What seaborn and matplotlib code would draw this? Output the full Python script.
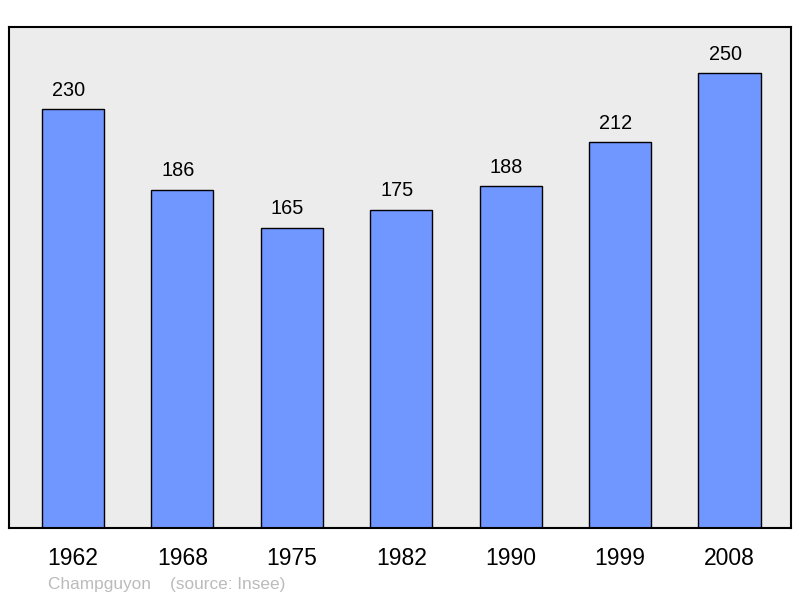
import matplotlib
matplotlib.use("Agg")
import matplotlib.pyplot as plt
import seaborn as sns
import pandas as pd

years = ["1962", "1968", "1975", "1982", "1990", "1999", "2008"]
population = [230, 186, 165, 175, 188, 212, 250]
caption = "Champguyon    (source: Insee)"

sns.set_style("white")
plt.rcParams['font.family'] = ['Liberation Sans', 'DejaVu Sans']

df = pd.DataFrame({"year": years, "pop": population})

fig = plt.figure(figsize=(8, 5.98), dpi=100)
ax = fig.add_axes([9 / 800, 1 - 528 / 598, 782 / 800, 501 / 598])
ax.set_facecolor("#ececec")

sns.barplot(data=df, x="year", y="pop", color="#7096ff", saturation=1,
            width=0.567, edgecolor="black", linewidth=1.0, ax=ax)

# value labels sit a little left of bar centre, like the original
for i, v in enumerate(population):
    ax.annotate(str(v), (i, v), xytext=(-3.2, 13.5), textcoords="offset points",
                ha="center", va="center", fontsize=14.3, color="black")

ax.set_xlim(-0.585, 6.562)
ax.set_ylim(0, 275.3)
ax.set_yticks([])
ax.set_xlabel("")
ax.set_ylabel("")
ax.tick_params(axis="x", length=0, pad=14, labelsize=16.5, labelcolor="black")
for s in ax.spines.values():
    s.set_visible(True)
    s.set_color("black")
    s.set_linewidth(1.5)

fig.text(48 / 800, 1 - 585 / 598, caption, fontsize=12.4, color="#bbbbbb",
         ha="left", va="center")

fig.savefig("out.png", dpi=100)
